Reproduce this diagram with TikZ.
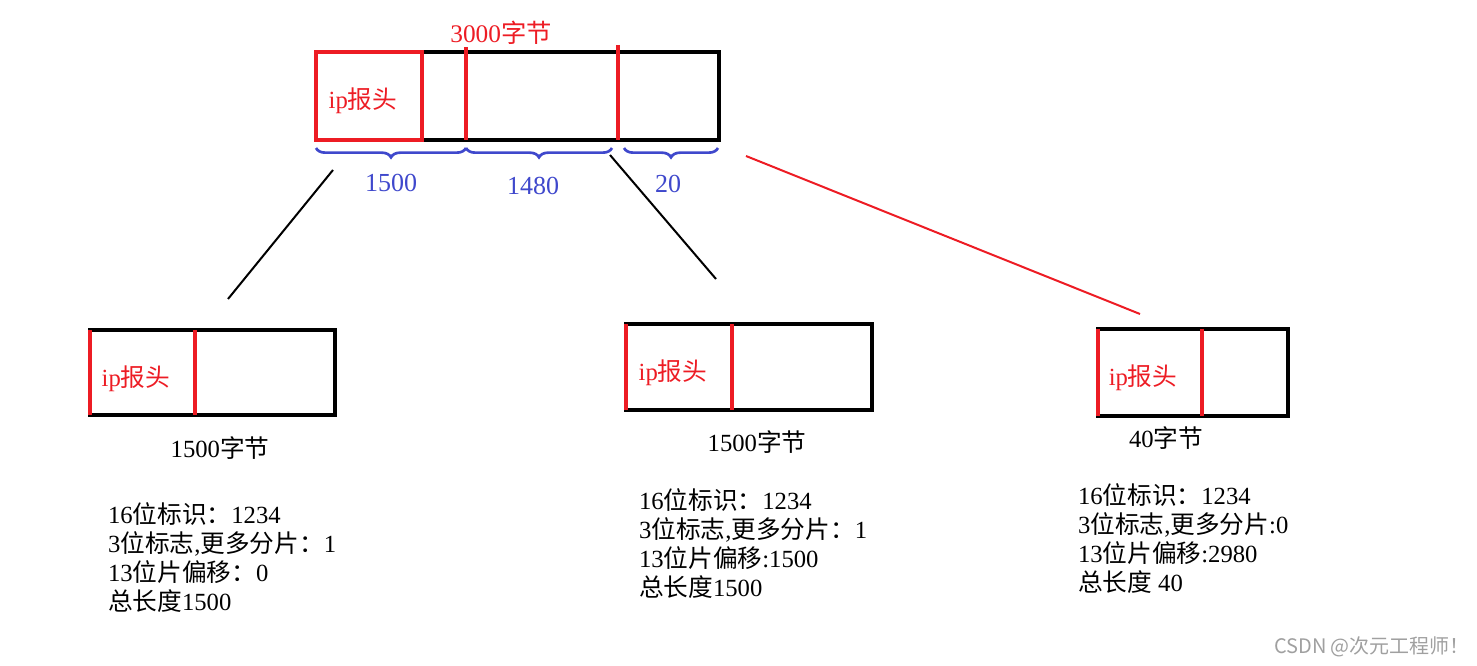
\documentclass[tikz,border=0pt]{standalone}
\usepackage{fontspec}
\setmainfont{Liberation Serif}
\newfontfamily\cjk{Noto Sans CJK SC}
\newcommand{\zh}[1]{{\cjk #1}}
\usetikzlibrary{positioning}
\usetikzlibrary{fit}
\usetikzlibrary{decorations.pathreplacing}
\definecolor{CutRed}{RGB}{237,28,36}
\definecolor{SizeBlue}{RGB}{63,72,204}
\definecolor{MarkGray}{RGB}{160,160,160}

\begin{document}
\begin{tikzpicture}[
x=0.75pt,
y=-0.75pt,
every node/.style={font=\fontsize{16}{21.75}\selectfont,text=black,inner sep=0pt,outer sep=0pt},
packet/.style={draw=black,line width=2.3pt,inner sep=0pt},
hdr/.style={draw=CutRed,line width=2.3pt,inner sep=0pt},
hdrtext/.style={font=\fontsize{18.5}{20}\selectfont,text=CutRed},
cut/.style={draw=CutRed,line width=2.3pt},
title/.style={font=\fontsize{19}{20}\selectfont,text=CutRed},
sizebrace/.style={draw=SizeBlue,line width=2pt,decorate,decoration={brace,mirror,amplitude=7pt}},
sizelabel/.style={font=\fontsize{19.5}{20}\selectfont,text=SizeBlue},
sizetext/.style={font=\fontsize{18.5}{20}\selectfont},
info/.style={align=left,font=\fontsize{18.5}{21.75}\selectfont},
split/.style={draw=black,line width=1.5pt},
splitred/.style={draw=CutRed,line width=1.5pt},
watermark/.style={font=\cjk\fontsize{15}{17}\selectfont,text=MarkGray}
]

\path[use as bounding box] (0,0) rectangle (1477,666);

% original datagram
\node[packet,fit={(316,52) (719,140)}] (whole) {};
\node[hdr,fit={(316,52) (422,140)}] (wholehdr) {};
\node[hdrtext] (wholehdrtxt) at (363,101) {ip\zh{报头}};
\node[title] (total) at (501,33) {3000\zh{字节}};

\coordinate (cutA) at (466,47);
\coordinate (cutB) at (618,45);
\draw[cut] (cutA) -- (cutA |- whole.south);
\draw[cut] (cutB) -- (cutB |- whole.south);

\coordinate (b0) at (316,148);
\coordinate (b1) at (466,148);
\coordinate (b2) at (612,148);
\coordinate (b3) at (624,148);
\coordinate (b4) at (718,148);

\draw[sizebrace] (b0) -- (b1);
\draw[sizebrace] (b1) -- (b2);
\draw[sizebrace] (b3) -- (b4);

\node[sizelabel] (len1) at (391,183) {1500};
\node[sizelabel] (len2) at (533,186) {1480};
\node[sizelabel] (len3) at (668,184) {20};

% split lines
\coordinate (split1from) at (333,170);
\coordinate (split1to) at (228,299);
\coordinate (split2from) at (610,155);
\coordinate (split2to) at (716,279);
\coordinate (split3from) at (746,156);
\coordinate (split3to) at (1140,314);

\draw[split] (split1from) -- (split1to);
\draw[split] (split2from) -- (split2to);
\draw[splitred] (split3from) -- (split3to);

% fragment 1
\node[packet,fit={(90,330) (335,415)}] (frag1) {};
\coordinate (frag1div) at (195,330);
\draw[cut] (frag1.north west) -- (frag1.south west);
\draw[cut] (frag1div) -- (frag1div |- frag1.south);
\node[hdrtext] (frag1hdr) at (136,379) {ip\zh{报头}};
\node[sizetext] (frag1size) at (220,448) {1500\zh{字节}};
\node[info,anchor=north west] (frag1info) at (108,503) {16\zh{位标识：}1234\\3\zh{位标志},\zh{更多分片：}1\\13\zh{位片偏移：}0\\\zh{总长度}1500};

% fragment 2
\node[packet,fit={(626,324) (872,410)}] (frag2) {};
\coordinate (frag2div) at (732,324);
\draw[cut] (frag2.north west) -- (frag2.south west);
\draw[cut] (frag2div) -- (frag2div |- frag2.south);
\node[hdrtext] (frag2hdr) at (673,373) {ip\zh{报头}};
\node[sizetext] (frag2size) at (757,442) {1500\zh{字节}};
\node[info,anchor=north west] (frag2info) at (639,489) {16\zh{位标识：}1234\\3\zh{位标志},\zh{更多分片：}1\\13\zh{位片偏移}:1500\\\zh{总长度}1500};

% fragment 3
\node[packet,fit={(1098,329) (1288,416)}] (frag3) {};
\coordinate (frag3div) at (1202,329);
\draw[cut] (frag3.north west) -- (frag3.south west);
\draw[cut] (frag3div) -- (frag3div |- frag3.south);
\node[hdrtext] (frag3hdr) at (1143,378) {ip\zh{报头}};
\node[sizetext] (frag3size) at (1166,438) {40\zh{字节}};
\node[info,anchor=north west] (frag3info) at (1078,484) {16\zh{位标识：}1234\\3\zh{位标志},\zh{更多分片}:0\\13\zh{位片偏移}:2980\\\zh{总长度} 40};

\node[watermark] (csdn) at (1372,647) {CSDN @次元工程师！};

\end{tikzpicture}
\end{document}
